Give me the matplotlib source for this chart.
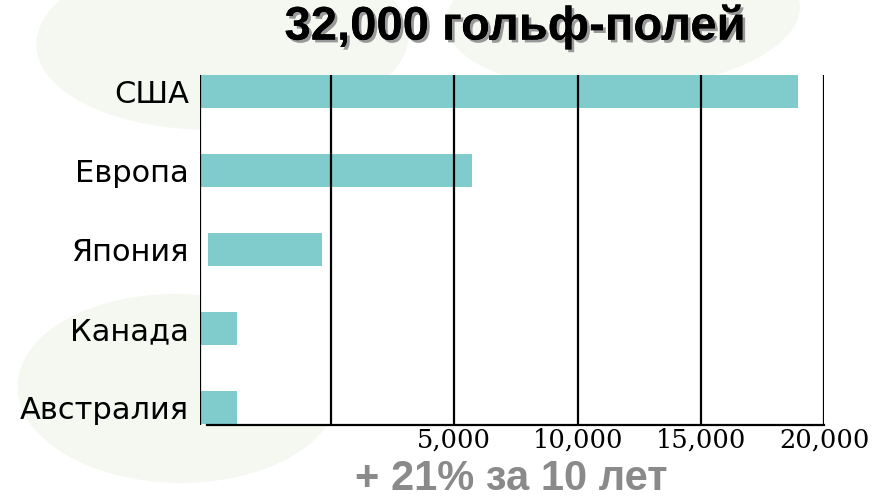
import numpy as np
import matplotlib.pyplot as plt
from matplotlib.patches import Ellipse
import matplotlib.patheffects as pe

# data (bar lengths on the chart's 0..25,000 scale)
countries = ["США", "Европа", "Япония", "Канада", "Австралия"]
courses = [24080, 10900, 4570, 1480, 1480]
starts = [-120, 0, 320, 0, 0]
grid_x = [0, 5250, 10180, 15140, 20070, 25000]
tick_pos = [10180, 15140, 20070, 25000]
tick_labels = ["5,000", "10,000", "15,000", "20,000"]

title = "32,000 гольф-полей"
footer = "+ 21% за 10 лет"

bar_color = "#80cccc"

fig = plt.figure(figsize=(8.9, 4.98), dpi=100)
fig.patch.set_facecolor("white")

# faint "Global Golf" watermark leaves behind the chart
leaf_color = "#f5f8f1"
for cx, cy, w, h, ang in [(0.25, 0.92, 0.42, 0.36, 10), (0.70, 0.97, 0.40, 0.30, 10),
                          (0.20, 0.22, 0.36, 0.38, 10)]:
    fig.patches.append(Ellipse((cx, cy), w, h, angle=ang, transform=fig.transFigure,
                               facecolor=leaf_color, edgecolor="none", zorder=-5))

ax = fig.add_axes([200 / 890, 1 - 425 / 498, 624 / 890, 350 / 498])
ax.set_facecolor("white")

y = np.arange(len(countries))[::-1]
ax.barh(y, courses, left=starts, height=0.41, color=bar_color, zorder=1)

for gx in grid_x:
    ax.axvline(gx, color="black", lw=1.6, zorder=2)

ax.set_xlim(0, 25000)
ax.set_ylim(-0.22, 4.21)

for s in ["top", "right", "left"]:
    ax.spines[s].set_visible(False)
ax.spines["bottom"].set_linewidth(1.6)
ax.spines["bottom"].set_bounds(300, 25000)

ax.set_yticks(y)
ax.set_yticklabels(countries, fontsize=22, family="DejaVu Sans")
ax.tick_params(axis="y", length=0, pad=8)

ax.set_xticks(tick_pos)
ax.set_xticklabels(tick_labels, fontsize=18.5, family="DejaVu Serif")
ax.tick_params(axis="x", length=0, pad=2)

fig.text(0.579, 0.945, title, ha="center", va="center", fontsize=34,
         fontweight="bold", family="Liberation Sans", color="black",
         path_effects=[pe.withSimplePatchShadow(offset=(2, -2), shadow_rgbFace="#999999", alpha=1),
                       pe.Normal()])
fig.text(0.574, 0.038, footer, ha="center", va="center", fontsize=30,
         fontweight="bold", family="Liberation Sans", color="#8a8a8a")

fig.savefig("out.png", dpi=100)
